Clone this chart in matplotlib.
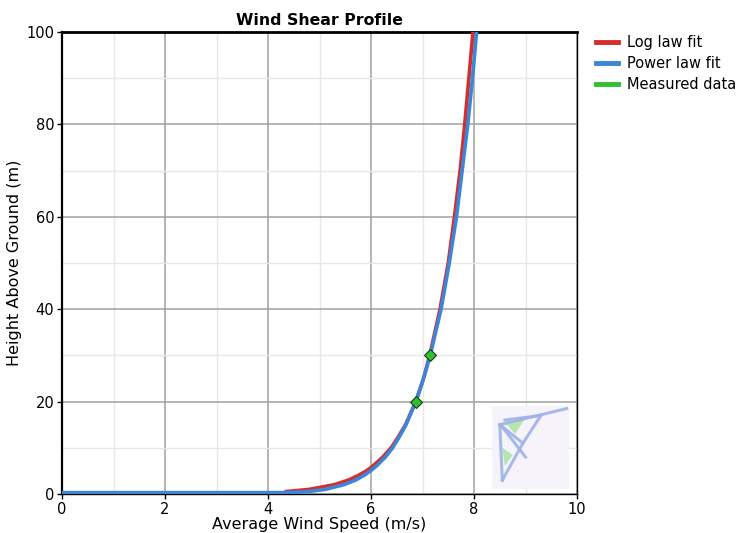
import matplotlib
matplotlib.use("Agg")
import matplotlib.pyplot as plt
from matplotlib.lines import Line2D
from matplotlib.patches import Polygon, Rectangle
from matplotlib.ticker import MultipleLocator

plt.rcParams['font.family'] = ['DejaVu Sans']

# Data
log_height = [0.5, 1, 2, 3, 4, 5, 6, 8, 10, 12, 15, 20, 25, 30, 40, 50, 60, 70, 80, 90, 100]
log_speed = [4.32, 4.80, 5.28, 5.56, 5.75, 5.91, 6.03, 6.23, 6.39, 6.51, 6.67, 6.87, 7.02, 7.14,
             7.34, 7.50, 7.62, 7.73, 7.82, 7.90, 7.98]
pow_height = [0.3, 0.3, 0.3, 0.5, 1, 2, 3, 4, 5, 6, 8, 10, 12, 15, 20, 25, 30, 40, 50, 60, 70, 80, 90, 100]
pow_speed = [0.0, 3.80, 4.36, 4.77, 5.11, 5.47, 5.70, 5.86, 5.99, 6.10, 6.28, 6.42, 6.53, 6.68,
             6.87, 7.02, 7.15, 7.36, 7.52, 7.66, 7.77, 7.88, 7.97, 8.05]
meas_height = [20, 30]
meas_speed = [6.87, 7.15]

fig = plt.figure(figsize=(7.42, 5.33), dpi=100)
ax = fig.add_axes([62/742, 1-494/533, (577-62)/742, (494-32)/533])

red = '#d62d2d'
blue = '#3a86d8'
green = '#2ec02e'

ax.plot(log_speed, log_height, color=red, lw=2.6, zorder=3, solid_capstyle='butt')
ax.plot(pow_speed, pow_height, color=blue, lw=2.6, zorder=4, solid_capstyle='butt')
ax.plot(meas_speed, meas_height, linestyle='none', marker='D', ms=6, mfc=green,
        mec='#1a3a1a', mew=0.8, zorder=5)

ax.set_xlim(0, 10)
ax.set_ylim(0, 100)
ax.xaxis.set_major_locator(MultipleLocator(2))
ax.xaxis.set_minor_locator(MultipleLocator(1))
ax.yaxis.set_major_locator(MultipleLocator(20))
ax.yaxis.set_minor_locator(MultipleLocator(10))
ax.grid(which='major', color='#a0a0a0', lw=1.1, zorder=1)
ax.grid(which='minor', color='#e8e8e8', lw=1.0, zorder=0)
ax.set_axisbelow(True)
ax.tick_params(which='major', length=3.6, width=1, labelsize=10.5, pad=2)
ax.tick_params(which='minor', length=0)
for s in ['left', 'bottom', 'right']:
    ax.spines[s].set_linewidth(1.0)
ax.spines['top'].set_linewidth(2.0)
ax.spines['left'].set_linewidth(1.6)

ax.set_xlabel('Average Wind Speed (m/s)', fontsize=11.5, labelpad=0)
ax.set_ylabel('Height Above Ground (m)', fontsize=11.5, labelpad=3)
ax.set_title('Wind Shear Profile', fontsize=11.3, fontweight='bold', pad=5)

# faint logo watermark (bottom right)
ax.add_patch(Rectangle((0.835, 0.01), 0.15, 0.18, transform=ax.transAxes,
                       facecolor='#f6f4fa', edgecolor='none', zorder=1.5))
kite_lines = [
    [(0.85, 0.15), (0.98, 0.185)],
    [(0.85, 0.15), (0.855, 0.03)],
    [(0.85, 0.15), (0.895, 0.11), (0.855, 0.03)],
    [(0.86, 0.16), (0.93, 0.17), (0.895, 0.11)],
    [(0.855, 0.145), (0.9, 0.08)],
]
for pts in kite_lines:
    xs = [p[0] for p in pts]
    ys = [p[1] for p in pts]
    ax.plot(xs, ys, transform=ax.transAxes, color='#9fb3e6', lw=2.2, zorder=2, alpha=0.9)
ax.add_patch(Polygon([(0.86, 0.155), (0.9, 0.165), (0.88, 0.13)], closed=True,
                     transform=ax.transAxes, facecolor='#b5e6b0', edgecolor='none', zorder=1.8))
ax.add_patch(Polygon([(0.855, 0.1), (0.875, 0.085), (0.86, 0.06)], closed=True,
                     transform=ax.transAxes, facecolor='#b5e6b0', edgecolor='none', zorder=1.8))

handles = [Line2D([], [], color=red, lw=3.5),
           Line2D([], [], color=blue, lw=3.5),
           Line2D([], [], color=green, lw=3.5)]
fig.legend(handles, ['Log law fit', 'Power law fit', 'Measured data'],
           loc='upper left', bbox_to_anchor=(590/742, 1-29/533), frameon=False,
           fontsize=10.5, handlelength=1.5, handletextpad=0.65, labelspacing=0.42,
           borderaxespad=0)

fig.savefig('out.png', dpi=100)
